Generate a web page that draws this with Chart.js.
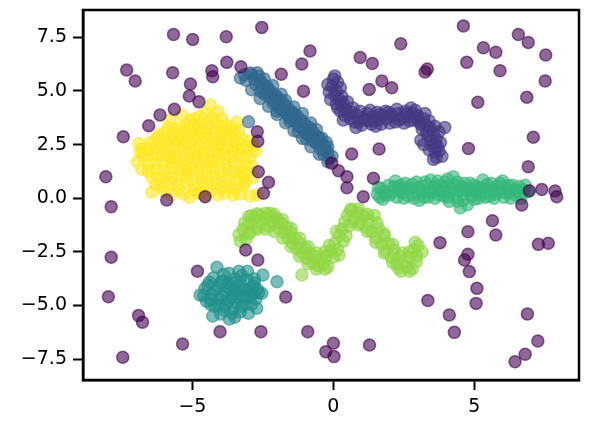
<!DOCTYPE html>
<html>
<head>
<meta charset="utf-8">
<script src="https://cdn.jsdelivr.net/npm/chart.js@4.4.1/dist/chart.umd.min.js"></script>
<style>
  html,body{margin:0;padding:0;background:#fff;}
</style>
</head>
<body>
<canvas id="grafico" width="589" height="429"></canvas>
<script>
// pontos de ruído (rótulo -1)
const ruido = [
  [-2.54,7.96],[-5.67,7.63],[-4.99,7.40],[-3.80,7.52],[-0.83,6.86],[-1.12,6.25],[-7.33,5.97],[-7.03,5.46],
  [-5.70,5.85],[-4.31,5.94],[-4.28,5.66],[-3.78,6.33],[-3.28,6.12],[-1.85,5.78],[-5.07,5.32],[-5.11,4.76],
  [-4.77,4.49],[-1.06,4.99],[-5.64,4.15],[-6.15,3.88],[-6.55,3.38],[-7.45,2.86],[-2.70,3.10],[-2.68,2.66],
  [-8.07,1.00],[-2.66,1.23],[-2.30,0.74],[-4.55,0.07],[-2.48,0.23],[-5.91,-0.08],[-0.06,1.63],
  [4.61,8.03],[6.56,7.63],[6.91,7.26],[2.39,7.20],[5.32,7.01],[5.76,6.80],[7.53,6.67],[0.95,6.56],
  [1.38,6.28],[4.73,6.33],[3.33,6.02],[3.25,5.88],[5.91,5.94],[7.51,5.46],[1.72,5.46],[1.27,5.07],
  [2.07,5.15],[6.86,4.70],[5.12,4.47],[7.09,2.84],[1.62,2.29],[4.79,2.32],[0.65,2.06],[6.91,1.47],
  [0.18,1.28],[0.48,1.00],[0.48,0.49],[1.42,0.93],[1.06,0.07],[6.95,0.35],[7.39,0.41],[7.86,0.34],[7.92,0.07],
  [6.68,-0.32],[5.64,-1.05],[5.76,-1.71],[4.77,-1.56],[3.78,-2.07],[4.77,-2.61],[4.65,-2.88],[4.82,-3.42],
  [7.27,-2.15],[7.62,-2.10],[5.09,-4.20],[5.06,-4.90],[3.35,-4.77],[4.11,-5.44],[4.29,-6.25],[6.88,-5.39],
  [7.25,-6.65],[6.80,-7.27],[6.44,-7.62],[1.28,-6.84],[0.00,-6.76],[0.02,-7.38],
  [-7.88,-0.40],[-7.88,-2.75],[-7.98,-4.59],[-6.91,-5.47],[-6.77,-5.78],[-7.47,-7.41],[-5.35,-6.79],
  [-4.82,-3.40],[-3.11,-2.41],[-2.68,-2.88],[-1.69,-4.60],[-4.02,-6.22],[-2.57,-6.22],[-0.91,-6.22],[-0.27,-7.15]
];

// cluster 0: curva azul escura
const grupo0 = [
  [0.00,5.55],[0.15,5.40],[-0.05,5.20],[0.10,5.00],[0.25,5.15],[0.05,4.80],[0.20,4.60],[0.10,4.40],[0.30,4.30],
  [0.25,4.05],[0.45,4.15],[0.40,3.85],[0.60,3.70],[0.65,4.00],[0.85,3.85],[0.90,3.55],[1.05,3.75],[1.20,3.95],
  [1.25,3.60],[1.40,3.80],[1.55,4.00],[1.60,3.65],[1.75,3.85],[1.90,3.70],[1.95,4.00],[2.10,3.80],[2.20,3.55],
  [2.30,3.95],[2.45,3.75],[2.55,4.05],[2.65,3.80],[2.80,3.95],[2.85,3.65],[3.00,3.85],[3.05,3.55],[3.20,3.70],
  [3.30,3.40],[3.15,3.20],[3.45,3.25],[3.35,2.95],[3.55,3.05],[3.45,2.70],[3.65,2.75],[3.50,2.45],[3.70,2.40],
  [3.60,2.15],[3.75,2.20],[3.65,1.90],[3.95,3.30],[3.20,2.50],[0.35,3.65],[0.80,3.30],[1.50,3.35],[2.75,4.20],[0.50,4.50],
  [-0.20,5.30],[-0.15,4.95],[-0.10,4.60],[0.05,5.70],[0.30,4.75],[0.35,4.45],[0.15,4.20],[0.55,3.90],[0.70,4.20],
  [0.75,3.55],[0.95,4.05],[1.00,3.40],[1.15,3.65],[1.30,4.10],[1.35,3.45],[1.45,3.60],[1.65,3.90],[1.70,3.45],
  [1.85,4.05],[2.00,3.50],[2.05,3.90],[2.25,4.15],[2.35,3.65],[2.50,3.50],[2.60,3.95],[2.70,3.60],[2.90,4.10],
  [2.95,3.75],[3.10,3.45],[3.25,3.95],[3.40,3.60],[3.60,3.35],[3.30,3.05],[3.60,2.55],[3.40,2.25],[3.80,2.60],
  [3.55,1.80],[3.85,1.95],[3.75,3.10],[3.10,2.70]
];

// cluster 1: diagonal
const grupo1 = [
  [-3.30,5.60],[-2.95,5.83],[-3.10,5.50],[-2.80,5.55],[-2.65,5.70],[-2.75,5.30],[-2.55,5.40],[-2.50,5.10],
  [-2.35,5.20],[-2.40,4.90],[-2.20,4.95],[-2.25,4.70],[-2.05,4.80],[-2.10,4.50],[-1.90,4.60],[-1.95,4.30],
  [-1.75,4.40],[-1.80,4.10],[-1.60,4.20],[-1.65,3.90],[-1.45,4.00],[-1.50,3.70],[-1.30,3.85],[-1.35,3.55],
  [-1.15,3.65],[-1.20,3.35],[-1.00,3.45],[-1.05,3.15],[-0.85,3.30],[-0.90,2.95],[-0.70,3.05],[-0.75,2.75],
  [-0.55,2.85],[-0.60,2.55],[-0.45,2.60],[-0.45,2.30],[-0.30,2.40],[-0.35,2.05],[-0.20,2.15],[-0.15,1.85],
  [-0.05,1.95],[-1.70,4.55],[-1.40,4.25],[-2.45,5.55],[-1.10,3.95],[-0.80,3.50],[-0.60,3.20],[-1.55,3.60],
  [-1.25,3.10],[-2.00,4.05],[-2.60,5.00],[-0.95,2.75],[-0.40,2.80],[-0.25,2.60],[-1.85,4.85],[-2.15,5.25],[-3.01,3.56],
  [-2.90,5.78],[-2.90,5.05],[-2.60,5.42],[-2.60,4.65],[-2.30,5.05],[-2.30,4.28],[-2.00,4.68],[-2.00,3.90],
  [-1.70,4.30],[-1.70,3.52],[-1.40,3.93],[-1.40,3.15],[-1.10,3.55],[-1.10,2.78],[-0.80,3.18],[-0.80,2.40],
  [-0.50,2.80],[-0.50,2.05],[-0.20,2.40],[-0.20,1.70],[-2.45,4.85],[-2.15,4.45],[-1.85,4.10],[-1.55,3.75],
  [-1.25,3.35],[-0.95,3.00],[-0.65,2.60],[-0.35,2.25],[-3.15,5.75],[-2.70,5.85]
];

// cluster 2: bolha verde-azulada
const grupo2 = [
  [-4.73,-4.51],[-4.55,-4.20],[-4.50,-4.80],[-4.40,-3.90],[-4.30,-4.45],[-4.28,-5.49],[-4.20,-5.05],[-4.13,-3.22],
  [-4.10,-4.15],[-4.05,-4.70],[-3.95,-3.85],[-3.90,-5.20],[-3.85,-4.40],[-3.80,-4.90],[-3.75,-3.95],[-3.69,-5.63],
  [-3.65,-4.25],[-3.60,-4.60],[-3.55,-5.10],[-3.50,-3.75],[-3.45,-4.45],[-3.40,-4.85],[-3.35,-4.10],[-3.30,-5.30],
  [-3.25,-3.60],[-3.20,-4.55],[-3.15,-4.95],[-3.10,-4.25],[-3.05,-3.80],[-3.01,-5.36],[-2.95,-4.60],[-2.90,-4.95],
  [-2.85,-4.10],[-2.80,-3.75],[-2.72,-5.13],[-2.65,-4.40],[-2.54,-4.43],[-2.50,-3.58],[-2.00,-3.89],[-3.05,-3.40],
  [-4.00,-5.40],[-3.70,-3.50],[-4.35,-4.95],[-2.75,-4.70],[-3.35,-3.40],
  [-4.60,-4.55],[-4.45,-4.05],[-4.35,-4.70],[-4.20,-4.30],[-4.10,-4.95],[-4.00,-3.95],[-3.95,-4.55],[-3.85,-5.05],
  [-3.75,-4.15],[-3.70,-4.75],[-3.60,-5.35],[-3.55,-3.95],[-3.50,-4.30],[-3.40,-4.60],[-3.30,-3.90],[-3.25,-5.05],
  [-3.20,-4.25],[-3.10,-4.70],[-2.95,-4.35],[-2.85,-4.45],[-2.70,-4.25],[-2.80,-3.95],[-4.25,-3.70],[-3.90,-3.55],[-3.50,-5.55]
];

// cluster 3: linha horizontal verde
const grupo3 = [
  [1.55,0.20],[1.70,0.45],[1.85,0.15],[1.95,0.60],[2.10,0.30],[2.25,0.05],[2.30,0.55],[2.45,0.25],[2.55,0.70],
  [2.65,0.10],[2.75,0.45],[2.90,0.20],[2.95,0.75],[3.10,0.40],[3.20,0.05],[3.30,0.60],[3.40,0.25],[3.55,0.50],
  [3.60,0.00],[3.70,0.80],[3.80,0.35],[3.90,0.10],[4.00,0.55],[4.10,-0.15],[4.15,0.30],[4.25,1.00],[4.30,0.60],
  [4.35,0.05],[4.45,0.40],[4.50,-0.45],[4.60,0.20],[4.65,0.70],[4.75,-0.30],[4.80,0.45],[4.90,0.10],[5.00,0.60],
  [5.05,0.30],[5.15,0.00],[5.25,0.50],[5.35,0.25],[5.45,0.65],[5.55,0.10],[5.65,0.40],[5.75,0.20],[5.85,0.55],
  [5.95,0.30],[6.05,0.05],[6.15,0.45],[6.25,0.25],[6.35,0.60],[6.45,0.15],[6.55,0.35],[6.70,0.25],[6.80,0.60],
  [6.65,0.00],[4.05,0.90],[3.45,0.85],[2.20,0.80],[5.30,0.85],[6.00,0.80],[1.75,-0.05],[3.05,-0.10],
  [1.60,0.50],[1.80,0.30],[2.00,0.15],[2.15,0.55],[2.35,0.35],[2.50,0.00],[2.60,0.45],[2.80,0.65],[2.85,0.00],
  [3.00,0.50],[3.15,0.25],[3.25,0.75],[3.35,0.05],[3.50,0.30],[3.65,0.60],[3.75,0.15],[3.85,0.55],[3.95,0.30],
  [4.05,0.05],[4.20,0.45],[4.40,0.75],[4.40,-0.15],[4.55,0.55],[4.70,0.35],[4.85,0.70],[4.95,0.35],[5.10,0.50],
  [5.20,0.20],[5.40,0.05],[5.50,0.45],[5.60,0.70],[5.70,0.00],[5.80,0.35],[5.90,0.70],[6.10,0.25],[6.20,0.60],
  [6.30,0.00],[6.40,0.40],[6.60,0.55],[6.75,0.40],[6.90,0.30],[4.60,-0.10],[5.00,-0.05],[3.95,0.75],[2.40,0.60],[1.65,0.05]
];

// cluster 4: onda verde clara
const grupo4 = [
  [-3.35,-1.70],[-3.20,-1.45],[-3.10,-1.90],[-3.00,-1.20],[-2.95,-1.60],[-2.80,-0.95],[-2.75,-1.35],[-2.60,-0.80],
  [-2.55,-1.15],[-2.40,-0.95],[-2.30,-1.30],[-2.20,-0.85],[-2.10,-1.15],[-2.00,-0.95],[-1.95,-1.40],[-1.85,-1.15],
  [-1.75,-1.60],[-1.65,-1.35],[-1.60,-1.85],[-1.50,-1.60],[-1.45,-2.10],[-1.35,-1.85],[-1.30,-2.35],[-1.20,-2.10],
  [-1.10,-2.55],[-1.00,-2.30],[-0.95,-2.80],[-0.85,-2.55],[-0.75,-3.00],[-0.65,-2.70],[-0.55,-3.15],[-0.45,-2.85],
  [-0.35,-3.05],[-0.25,-2.70],[-0.20,-3.20],[-0.10,-2.45],[0.00,-2.75],[0.05,-2.10],[0.15,-2.40],[0.20,-1.75],
  [0.30,-1.45],[0.35,-2.00],[0.40,-1.10],[0.50,-0.80],[0.55,-1.30],[0.65,-0.50],[0.75,-0.95],[0.85,-0.65],
  [0.95,-1.15],[1.05,-0.80],[1.15,-1.35],[1.25,-1.00],[1.35,-1.55],[1.45,-0.80],[1.50,-1.85],[1.60,-1.40],
  [1.70,-2.15],[1.80,-1.75],[1.85,-2.45],[1.95,-2.10],[2.05,-2.75],[2.15,-2.40],[2.25,-3.05],[2.35,-2.70],
  [2.40,-3.40],[2.50,-2.90],[2.60,-3.20],[2.70,-2.75],[2.80,-3.30],[2.85,-2.40],[2.90,-2.05],[2.95,-2.95],
  [3.15,-2.50],[-1.12,-3.58],[-2.90,-0.80],[-2.25,-0.70],
  [-3.30,-2.00],[-3.15,-1.15],[-3.00,-0.85],[-3.00,-1.65],[-2.70,-0.72],[-2.70,-1.45],[-2.40,-0.70],[-2.40,-1.45],
  [-2.10,-0.75],[-2.10,-1.55],[-1.80,-1.00],[-1.80,-1.85],[-1.50,-1.40],[-1.50,-2.25],[-1.20,-1.85],[-1.20,-2.70],
  [-0.90,-2.25],[-0.90,-3.05],[-0.60,-2.55],[-0.60,-3.30],[-0.30,-2.50],[-0.30,-3.30],[-0.15,-2.20],[0.20,-2.65],
  [0.10,-1.55],[0.45,-1.75],[0.60,-0.55],[0.70,-1.10],[0.90,-0.50],[0.90,-1.25],[1.20,-0.75],[1.20,-1.55],
  [1.55,-1.15],[1.50,-2.05],[1.80,-1.65],[1.80,-2.55],[2.10,-2.15],[2.10,-3.00],[2.45,-2.55],[2.30,-3.25],
  [2.70,-2.50],[2.70,-3.40],[3.00,-2.20],[2.95,-2.70]
];

// cluster 5: bolha amarela
const grupo5 = [
  [-4.37,4.34],[-4.10,4.05],[-4.55,3.95],[-5.37,3.88],[-5.79,3.64],[-3.42,3.55],[-4.95,3.70],[-5.20,3.40],
  [-4.70,3.50],[-4.20,3.60],[-3.80,3.40],[-5.60,3.20],[-6.00,3.05],[-4.45,3.25],[-3.95,3.10],[-3.55,3.05],
  [-5.05,3.10],[-6.30,2.75],[-5.80,2.80],[-5.35,2.85],[-4.85,2.90],[-4.30,2.85],[-3.75,2.75],[-3.25,2.80],
  [-3.05,2.40],[-6.55,2.30],[-6.10,2.45],[-5.60,2.50],[-5.10,2.55],[-4.60,2.60],[-4.05,2.50],[-3.50,2.45],
  [-6.75,1.95],[-6.30,2.05],[-5.85,2.15],[-5.35,2.20],[-4.85,2.25],[-4.35,2.20],[-3.85,2.15],[-3.35,2.05],
  [-2.95,1.90],[-6.55,1.60],[-6.05,1.75],[-5.55,1.80],[-5.05,1.85],[-4.55,1.90],[-4.05,1.80],[-3.55,1.70],
  [-3.10,1.55],[-6.80,1.35],[-6.25,1.35],[-5.75,1.45],[-5.25,1.50],[-4.75,1.55],[-4.25,1.45],[-3.75,1.35],
  [-3.30,1.20],[-6.45,1.00],[-5.95,1.05],[-5.45,1.10],[-4.95,1.15],[-4.45,1.10],[-3.95,1.00],[-3.40,0.85],
  [-6.30,0.65],[-5.80,0.70],[-5.20,0.75],[-4.65,0.75],[-4.15,0.65],[-3.70,0.55],[-3.20,0.60],[-6.00,0.35],
  [-5.50,0.40],[-4.90,0.40],[-4.35,0.35],[-3.85,0.25],[-5.75,0.15],[-4.55,0.10],[-3.30,0.20],[-2.95,0.10],
  [-5.10,0.05],[-2.85,0.95],[-2.75,2.20],[-6.90,2.55],[-6.95,1.70],[-4.95,2.05],[-4.15,2.35],[-5.45,2.65],
  [-4.40,1.65],[-5.20,1.30],[-3.65,1.95],[-4.65,3.05],[-5.80,1.90],[-3.90,2.95],[-6.85,2.15],[-6.43,0.29],
  [-2.70,0.15],[-3.13,0.75],[-4.80,0.24],
  [-4.75,3.80],[-4.30,3.75],[-3.95,3.70],[-5.10,3.60],[-5.45,3.30],[-4.95,3.40],[-4.45,3.45],[-4.00,3.35],
  [-3.60,3.30],[-5.85,3.30],[-6.20,2.95],[-5.70,3.00],[-5.25,3.05],[-4.80,3.15],[-4.20,3.10],[-3.70,3.05],
  [-3.35,3.15],[-6.50,2.60],[-6.05,2.70],[-5.55,2.70],[-5.00,2.75],[-4.50,2.80],[-3.95,2.70],[-3.45,2.65],
  [-3.00,2.65],[-6.80,2.30],[-6.30,2.35],[-5.85,2.40],[-5.30,2.45],[-4.75,2.45],[-4.30,2.50],[-3.75,2.35],
  [-3.25,2.30],[-2.85,2.45],[-6.55,2.05],[-6.05,2.05],[-5.60,2.00],[-5.10,2.15],[-4.60,2.10],[-4.10,2.05],
  [-3.55,2.15],[-3.10,2.00],[-6.30,1.65],[-5.80,1.70],[-5.30,1.70],[-4.80,1.75],[-4.30,1.70],[-3.80,1.60],
  [-3.30,1.55],[-2.90,1.50],[-6.55,1.25],[-6.00,1.25],[-5.50,1.35],[-5.00,1.40],[-4.50,1.30],[-4.00,1.25],
  [-3.50,1.15],[-3.05,1.20],[-6.20,0.90],[-5.70,0.95],[-5.20,1.00],[-4.70,0.95],[-4.20,0.90],[-3.70,0.85],
  [-3.20,0.95],[-6.10,0.55],[-5.55,0.60],[-4.95,0.60],[-4.45,0.55],[-3.95,0.45],[-3.50,0.40],[-5.30,0.20],
  [-4.75,0.25],[-4.10,0.15],[-3.55,0.15]
];

const ticksX = [-5, 0, 5];
const ticksY = [-7.5, -5.0, -2.5, 0.0, 2.5, 5.0, 7.5];

const cores = [
  'rgba(68,1,84,0.6)',    // ruído
  'rgba(68,57,131,0.6)',
  'rgba(49,104,142,0.6)',
  'rgba(33,145,140,0.6)',
  'rgba(53,183,121,0.6)',
  'rgba(144,215,67,0.6)',
  'rgba(253,231,37,0.6)'
];

const series = [ruido, grupo0, grupo1, grupo2, grupo3, grupo4, grupo5];

function menos(txt){ return String(txt).replace('-', '\u2212'); }

const moldura = {
  id: 'moldura',
  afterDraw(chart){
    const {ctx, chartArea: a} = chart;
    ctx.save();
    ctx.strokeStyle = '#000';
    ctx.lineWidth = 2.5;
    ctx.strokeRect(a.left, a.top, a.right - a.left, a.bottom - a.top);
    ctx.restore();
  }
};

function eixo(valores, fmt){
  return {
    type: 'linear',
    afterBuildTicks: s => { s.ticks = valores.map(v => ({value: v})); },
    ticks: {
      color: '#000',
      font: {family: 'DejaVu Sans', size: 19},
      padding: 6,
      callback: fmt
    },
    grid: {drawOnChartArea: false, drawTicks: true, tickLength: 10, tickWidth: 2, tickColor: '#000'},
    border: {display: true, color: '#000', width: 2.5}
  };
}

const escX = eixo(ticksX, v => menos(v));
escX.min = -8.88; escX.max = 8.71;
escX.afterFit = s => { s.height = 49; s.paddingLeft = 0; s.paddingRight = 0; };

const escY = eixo(ticksY, v => menos(v.toFixed(1)));
escY.min = -8.47; escY.max = 8.77;
escY.afterFit = s => { s.width = 83; s.paddingTop = 0; s.paddingBottom = 0; };

new Chart(document.getElementById('grafico').getContext('2d'), {
  type: 'scatter',
  data: {
    datasets: series.map((pts, i) => ({
      data: pts.map(p => ({x: p[0], y: p[1]})),
      backgroundColor: cores[i],
      borderColor: cores[i],
      borderWidth: 1.5,
      pointRadius: 6,
      pointHoverRadius: 6
    }))
  },
  options: {
    responsive: false,
    animation: false,
    devicePixelRatio: 1,
    layout: {padding: {left: 0, right: 10, top: 10, bottom: 0}},
    plugins: {legend: {display: false}, tooltip: {enabled: false}},
    scales: {x: escX, y: escY}
  },
  plugins: [moldura]
});
</script>
</body>
</html>
